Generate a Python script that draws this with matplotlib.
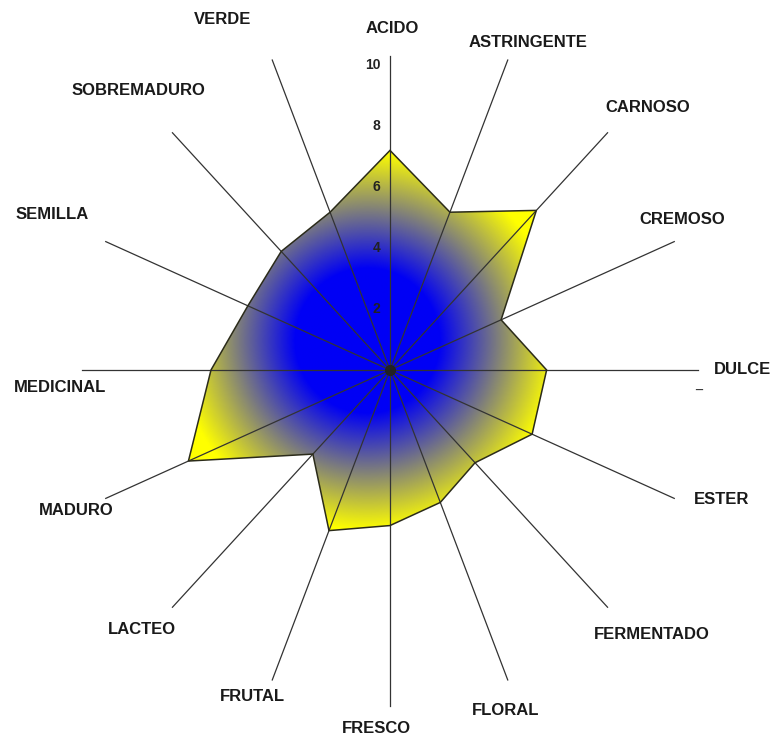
import numpy as np
import matplotlib
matplotlib.use("Agg")
from matplotlib import pyplot as plt
from matplotlib.patches import Polygon
from matplotlib.colors import LinearSegmentedColormap

# atributos del perfil y valores (escala 0-10)
atributos = ['ACIDO', 'ASTRINGENTE', 'CARNOSO', 'CREMOSO', 'DULCE', 'ESTER',
             'FERMENTADO', 'FLORAL', 'FRESCO', 'FRUTAL', 'LACTEO', 'MADURO',
             'MEDICINAL', 'SEMILLA', 'SOBREMADURO', 'VERDE']
valores = [7.2, 5.6, 7.4, 4.3, 5.6, 5.5, 4.3, 4.7, 5.1, 5.7, 3.9, 7.8,
           6.4, 5.5, 5.5, 5.6]
ticks = [2, 4, 6, 8, 10]
tick_labels = ['2', '4', '6', '8', '10']

# posicion de cada etiqueta (unidades del grafico)
label_pos = [(0.07, 11.2), (4.93, 10.75), (9.22, 8.62), (10.44, 4.92),
             (12.6, 0.0), (11.87, -4.26), (9.37, -8.66), (4.15, -11.15),
             (-0.5, -11.74), (-4.93, -10.69), (-8.87, -8.52), (-11.23, -4.62),
             (-11.8, -0.59), (-12.08, 5.11), (-9.01, 9.18), (-6.0, 11.48)]

W, H = 775, 738
cx, cy = 390, 370          # centro en pixeles
kx, ky = 27.97, 30.5       # pixeles por unidad

fig = plt.figure(figsize=(W / 100, H / 100), dpi=100, facecolor='w')
ax = fig.add_axes([0, 0, 1, 1])
ax.set_xlim(-cx / kx, (W - cx) / kx)
ax.set_ylim(-(H - cy) / ky, cy / ky)
ax.axis('off')

n = len(atributos)
theta = np.arange(n) * 2 * np.pi / n
sx, sy = np.sin(theta), np.cos(theta)

# ejes radiales
for i in range(n):
    largo = 10.3 if i == 0 else 11.0
    ax.plot([0, largo * sx[i]], [0, largo * sy[i]], color='#333333', lw=0.9, zorder=3)

# poligono con relleno degradado (azul en el centro, amarillo hacia fuera)
r = np.array(valores)
px, py = r * sx, r * sy
poly = Polygon(np.column_stack([px, py]), closed=True, fc='none',
               ec='#2b2b1a', lw=1.1, zorder=4)
ax.add_patch(poly)

x0, x1, y0, y1 = px.min(), px.max(), py.min(), py.max()
gx, gy = (x0 + x1) / 2, (y0 + y1) / 2
xs = np.linspace(x0, x1, 500)
ys = np.linspace(y0, y1, 500)
XX, YY = np.meshgrid(xs, ys)
d = np.hypot((XX - gx) * kx, (YY - gy) * ky)
t = np.clip((d - 72) / (190 - 72), 0, 1)
cmap = LinearSegmentedColormap.from_list('az', ['#0000f5', '#ffff00'])
im = ax.imshow(t, cmap=cmap, extent=(x0, x1, y0, y1), origin='lower',
               interpolation='bilinear', aspect='auto', zorder=2)
im.set_clip_path(poly)

ax.plot(0, 0, 'o', color='#222222', ms=7, zorder=5)

# etiquetas de los atributos
for nombre, (lx, ly) in zip(atributos, label_pos):
    ax.text(lx, ly, nombre, ha='center', va='center', fontsize=12,
            family=['Liberation Sans', 'DejaVu Sans'], weight='bold',
            color='#1a1a1a', zorder=6)

# escala en el eje ACIDO
for v, lab in zip(ticks, tick_labels):
    ax.text(-0.35, v, lab, ha='right', va='center', fontsize=10,
            family=['Liberation Sans', 'DejaVu Sans'], weight='bold',
            color='#222222', zorder=6)

ax.text(11.05, -0.45, '_', ha='center', va='center', fontsize=10, color='#333333')

fig.savefig('out.png', dpi=100, facecolor='w')
